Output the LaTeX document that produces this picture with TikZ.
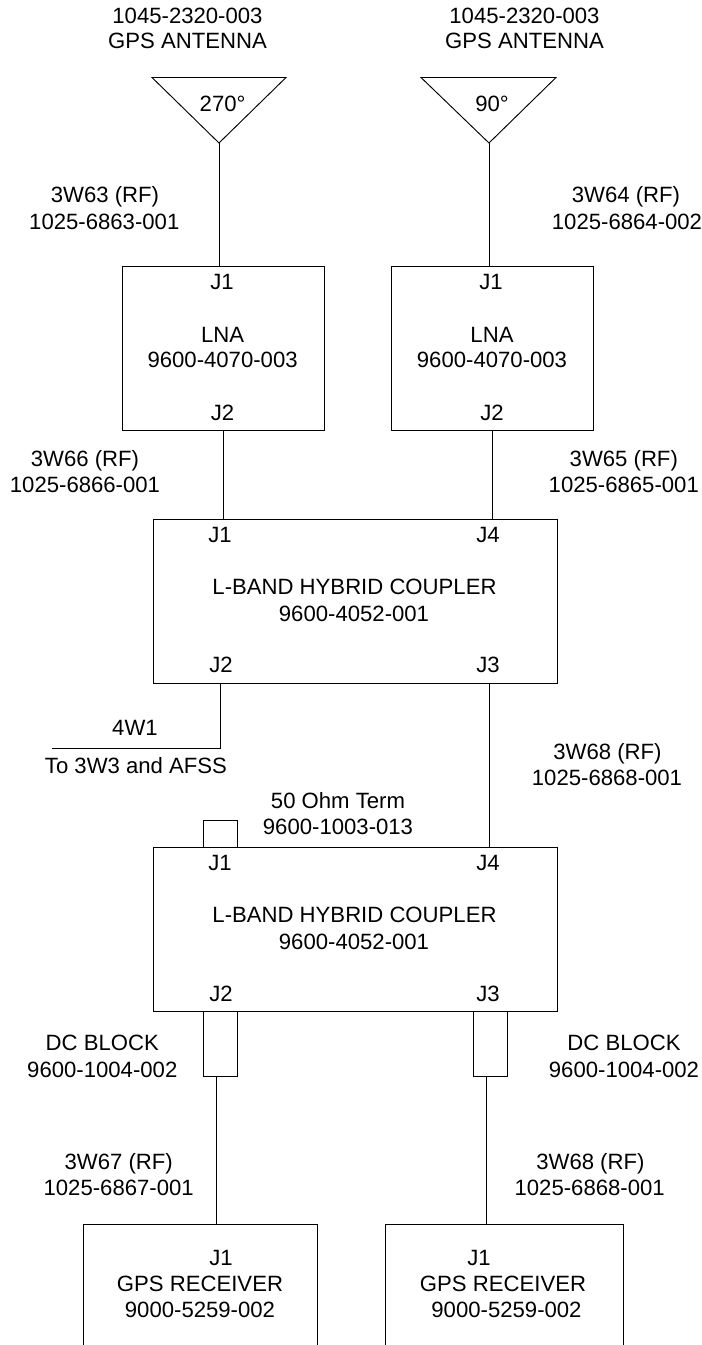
\documentclass[tikz,border=0pt]{standalone}
\usepackage{fontspec}
\setmainfont{Liberation Sans}
\tikzset{
  wire/.style={draw,line width=0.7pt},
  lbl/.style={inner sep=0,align=center,font=\fontsize{16.6}{20}\selectfont},
  rflbl/.style={lbl,yshift=-1.1pt}
}
\begin{document}
\begin{tikzpicture}[x=0.75pt,y=-0.75pt]
\useasboundingbox (0,0) rectangle (702,1345);
% antennas
\coordinate (a1l) at (152,77.5); \coordinate (a1r) at (286,77.5); \coordinate (a1b) at (219,143);
\coordinate (a2l) at (421,77.5); \coordinate (a2r) at (556,77.5); \coordinate (a2b) at (489,143);
\draw[wire] (a1l) -- (a1r) -- (a1b) -- cycle;
\draw[wire] (a2l) -- (a2r) -- (a2b) -- cycle;
\node[lbl] (n1) at (187.5,16) {1045-2320-003};
\node[lbl] (n2) at (187.5,41) {GPS ANTENNA};
\node[lbl] (n3) at (524.5,16) {1045-2320-003};
\node[lbl] (n4) at (524.5,41) {GPS ANTENNA};
\node[lbl] (d1) at (222.6,104) {270°};
\node[lbl] (d2) at (492,104) {90°};
% LNAs
\coordinate (l1a) at (122,266); \coordinate (l1b) at (324,430);
\coordinate (l2a) at (391,266); \coordinate (l2b) at (593,430);
\draw[wire] (l1a) rectangle (l1b);
\draw[wire] (l2a) rectangle (l2b);
\coordinate (t1) at (219,266); \coordinate (t2) at (489,266);
\draw[wire] (a1b) -- (t1);
\draw[wire] (a2b) -- (t2);
\node[lbl] (j1) at (222,282) {J1};
\node[lbl] (j2) at (491,282) {J1};
\node[lbl] (j3) at (222.6,335) {LNA};
\node[lbl] (j4) at (222.6,360) {9600-4070-003};
\node[lbl] (j5) at (492,335) {LNA};
\node[lbl] (j6) at (492,360) {9600-4070-003};
\node[lbl] (j7) at (222.6,413) {J2};
\node[lbl] (j8) at (492,413) {J2};
\node[rflbl] (w1) at (105,195) {3W63 (RF)};
\node[lbl] (w2) at (104.3,222) {1025-6863-001};
\node[rflbl] (w3) at (626,195) {3W64 (RF)};
\node[lbl] (w4) at (627,222) {1025-6864-002};
% coupler 1
\coordinate (c1a) at (153,519); \coordinate (c1b) at (557,683);
\draw[wire] (c1a) rectangle (c1b);
\coordinate (b1) at (223,430); \coordinate (b2) at (492,430);
\coordinate (c1t1) at (223,519); \coordinate (c1t2) at (492,519);
\draw[wire] (b1) -- (c1t1);
\draw[wire] (b2) -- (c1t2);
\node[rflbl] (w5) at (85,459) {3W66 (RF)};
\node[lbl] (w6) at (85,485) {1025-6866-001};
\node[rflbl] (w7) at (623.8,459) {3W65 (RF)};
\node[lbl] (w8) at (623.8,485) {1025-6865-001};
\node[lbl] (k1) at (220,535) {J1};
\node[lbl] (k2) at (488,535) {J4};
\node[lbl] (k3) at (354.5,587) {L-BAND HYBRID COUPLER};
\node[lbl] (k4) at (354,614) {9600-4052-001};
\node[lbl] (k5) at (221,665) {J2};
\node[lbl] (k6) at (488,665) {J3};
% 4W1
\coordinate (c1j2) at (220.3,683); \coordinate (w1k) at (220.3,748.7); \coordinate (w1e) at (51.7,748.7);
\draw[wire] (c1j2) -- (w1k) -- (w1e);
\node[lbl] (f1) at (135,728) {4W1};
\node[lbl] (f2) at (136,766) {To 3W3 and AFSS};
% coupler 2
\coordinate (c1j3) at (489.7,683); \coordinate (c2t) at (489.7,847);
\draw[wire] (c1j3) -- (c2t);
\node[rflbl] (w9) at (607.5,752) {3W68 (RF)};
\node[lbl] (w10) at (607,778) {1025-6868-001};
\node[lbl] (t3) at (338,801) {50 Ohm Term};
\node[lbl] (t4) at (338,827) {9600-1003-013};
\coordinate (c2a) at (153,847); \coordinate (c2b) at (557,1011);
\draw[wire] (c2a) rectangle (c2b);
\coordinate (ta) at (203,820); \coordinate (tb) at (237,847);
\draw[wire] (ta) rectangle (tb);
\node[lbl] (m1) at (220,863) {J1};
\node[lbl] (m2) at (488,863) {J4};
\node[lbl] (m3) at (354.5,915) {L-BAND HYBRID COUPLER};
\node[lbl] (m4) at (354,942) {9600-4052-001};
\node[lbl] (m5) at (221,994) {J2};
\node[lbl] (m6) at (488,994) {J3};
% DC blocks
\coordinate (b1a) at (203,1011); \coordinate (b1b) at (237,1076);
\coordinate (b2a) at (473,1011); \coordinate (b2b) at (507,1076);
\draw[wire] (b1a) rectangle (b1b);
\draw[wire] (b2a) rectangle (b2b);
\node[lbl] (d3) at (102.3,1043) {DC BLOCK};
\node[lbl] (d4) at (102.3,1070) {9600-1004-002};
\node[lbl] (d5) at (624,1043) {DC BLOCK};
\node[lbl] (d6) at (624,1070) {9600-1004-002};
\coordinate (bt1) at (216,1076); \coordinate (rt1) at (216,1224);
\coordinate (bt2) at (486,1076); \coordinate (rt2) at (486,1224);
\draw[wire] (bt1) -- (rt1);
\draw[wire] (bt2) -- (rt2);
\node[rflbl] (w11) at (118.7,1162) {3W67 (RF)};
\node[lbl] (w12) at (118.7,1188) {1025-6867-001};
\node[rflbl] (w13) at (590.4,1162) {3W68 (RF)};
\node[lbl] (w14) at (589.7,1188) {1025-6868-001};
% receivers (open bottom, cut off by the page edge)
\coordinate (r1a) at (83.6,1345); \coordinate (r1b) at (83.6,1224); \coordinate (r1c) at (317.5,1224); \coordinate (r1d) at (317.5,1345);
\coordinate (r2a) at (385,1345); \coordinate (r2b) at (385,1224); \coordinate (r2c) at (623,1224); \coordinate (r2d) at (623,1345);
\draw[wire] (r1a) -- (r1b) -- (r1c) -- (r1d);
\draw[wire] (r2a) -- (r2b) -- (r2c) -- (r2d);
\node[lbl] (p1) at (221,1258) {J1};
\node[lbl] (p2) at (479,1258) {J1};
\node[lbl] (p3) at (200,1284) {GPS RECEIVER};
\node[lbl] (p4) at (503,1284) {GPS RECEIVER};
\node[lbl] (p5) at (200,1310) {9000-5259-002};
\node[lbl] (p6) at (506.5,1310) {9000-5259-002};
\end{tikzpicture}
\end{document}
